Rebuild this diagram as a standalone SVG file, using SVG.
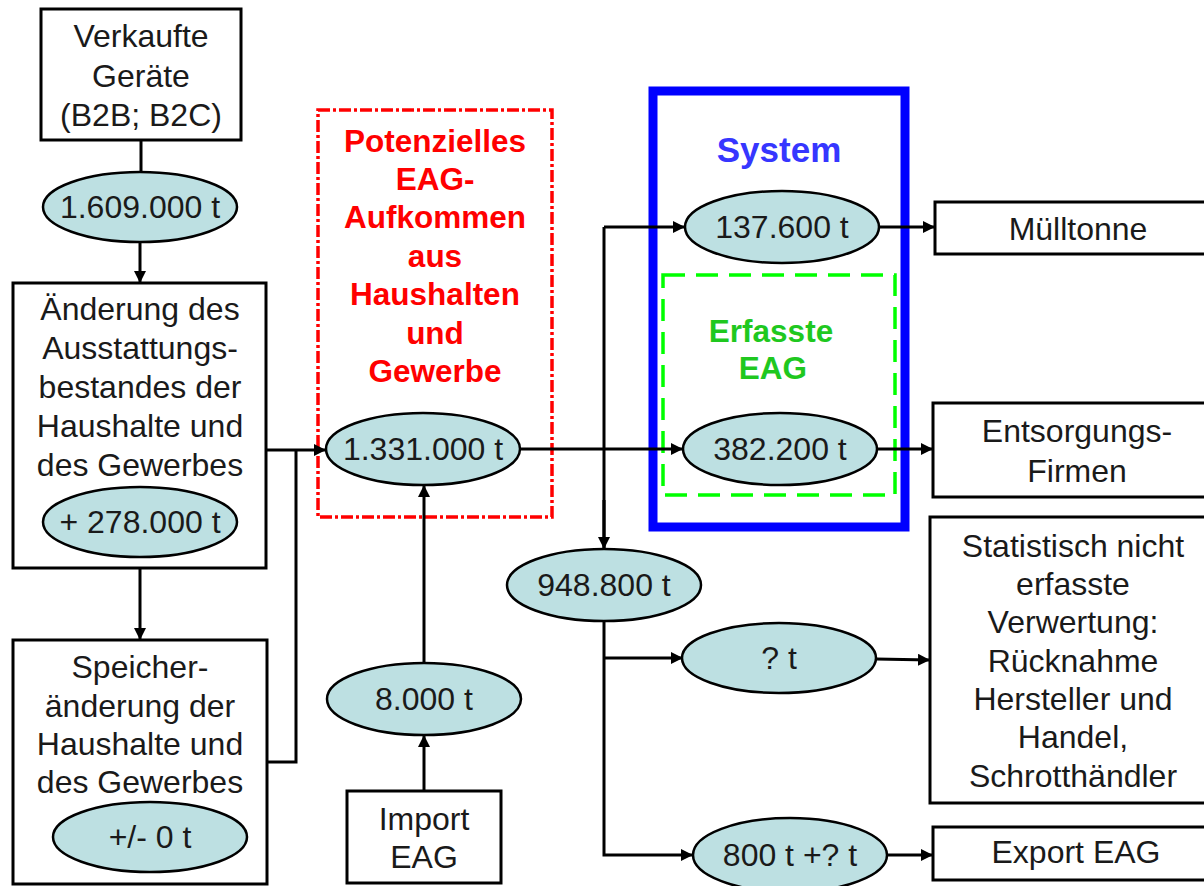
<svg xmlns="http://www.w3.org/2000/svg" width="1204" height="886" viewBox="0 0 1204 886">
<style>
.box{fill:#fff;stroke:#000;stroke-width:3}
.ell{fill:#bde0e2;stroke:#000;stroke-width:2.5}
.t{font-family:"Liberation Sans",Arial,sans-serif;font-size:32px;fill:#1a1a1a;text-anchor:middle}
.red{font-family:"Liberation Sans",Arial,sans-serif;font-size:31.5px;font-weight:bold;fill:#ff0000;text-anchor:middle}
.blue{font-family:"Liberation Sans",Arial,sans-serif;font-size:35px;font-weight:bold;fill:#3636ff;text-anchor:middle}
.green{font-family:"Liberation Sans",Arial,sans-serif;font-size:31.5px;font-weight:bold;fill:#1fc81f;text-anchor:middle}
.c{fill:none;stroke:#000;stroke-width:3}
</style>
<defs>
<marker id="ah" viewBox="0 0 10 10" refX="10" refY="5" markerWidth="4" markerHeight="4" markerUnits="strokeWidth" orient="auto">
<path d="M0,0 L10,5 L0,10 z" fill="#000"/>
</marker>
</defs>

<g id="frames">
<rect x="318" y="110" width="234" height="407" fill="none" stroke="#ff0000" stroke-width="3.5" stroke-dasharray="12 3 3 3"/>
<rect x="653" y="91" width="252" height="436" fill="none" stroke="#0000ff" stroke-width="9"/>
<rect x="663" y="275" width="232" height="220" fill="none" stroke="#00ff00" stroke-width="3.5" stroke-dasharray="22 11"/>
</g>

<g id="connectors">
<line class="c" x1="141" y1="140" x2="141" y2="172" stroke-width="2"/>
<line class="c" x1="140" y1="243" x2="140" y2="283" marker-end="url(#ah)"/>
<line class="c" x1="266" y1="450" x2="326" y2="450" marker-end="url(#ah)"/>
<polyline class="c" points="267,762 296,762 296,450"/>
<line class="c" x1="140" y1="568" x2="140" y2="640" marker-end="url(#ah)"/>
<line class="c" x1="424" y1="791" x2="424" y2="735" marker-end="url(#ah)"/>
<line class="c" x1="424" y1="663" x2="424" y2="485" marker-end="url(#ah)"/>
<line class="c" x1="520" y1="449" x2="683" y2="449" marker-end="url(#ah)"/>
<polyline class="c" points="604,548 604,227"/>
<line class="c" x1="604" y1="227" x2="685" y2="227" marker-end="url(#ah)"/>
<line class="c" x1="604" y1="500" x2="604" y2="549" marker-end="url(#ah)"/>
<line class="c" x1="879" y1="227" x2="935" y2="227" marker-end="url(#ah)"/>
<line class="c" x1="876" y1="449" x2="933" y2="449" marker-end="url(#ah)"/>
<polyline class="c" points="604,621 604,855 693,855" marker-end="url(#ah)"/>
<line class="c" x1="604" y1="658" x2="683" y2="658" marker-end="url(#ah)"/>
<line class="c" x1="876" y1="659" x2="930" y2="660" marker-end="url(#ah)"/>
<line class="c" x1="886" y1="855" x2="933" y2="855" marker-end="url(#ah)"/>
</g>

<g id="verkaufte">
<rect class="box" x="41" y="9" width="200" height="131"/>
<text class="t" x="141" y="47">Verkaufte</text>
<text class="t" x="141" y="87">Geräte</text>
<text class="t" x="141" y="126">(B2B; B2C)</text>
</g>
<g id="e1609">
<ellipse class="ell" cx="140" cy="207" rx="97" ry="35"/>
<text class="t" x="140" y="218">1.609.000 t</text>
</g>

<g id="aenderung">
<rect class="box" x="13" y="283" width="253" height="285"/>
<text class="t" x="140" y="320">Änderung des</text>
<text class="t" x="140" y="359">Ausstattungs-</text>
<text class="t" x="140" y="398">bestandes der</text>
<text class="t" x="140" y="437">Haushalte und</text>
<text class="t" x="140" y="476">des Gewerbes</text>
<ellipse class="ell" cx="140" cy="522" rx="97" ry="35"/>
<text class="t" x="140" y="533">+ 278.000 t</text>
</g>

<g id="speicher">
<rect class="box" x="13" y="640" width="254" height="244"/>
<text class="t" x="140" y="678">Speicher-</text>
<text class="t" x="140" y="717">änderung der</text>
<text class="t" x="140" y="755">Haushalte und</text>
<text class="t" x="140" y="793">des Gewerbes</text>
<ellipse class="ell" cx="150" cy="837" rx="97" ry="35"/>
<text class="t" x="150" y="848">+/- 0 t</text>
</g>

<g id="potenziell">
<text class="red" x="435" y="152">Potenzielles</text>
<text class="red" x="435" y="190">EAG-</text>
<text class="red" x="435" y="228">Aufkommen</text>
<text class="red" x="435" y="267">aus</text>
<text class="red" x="435" y="305">Haushalten</text>
<text class="red" x="435" y="344">und</text>
<text class="red" x="435" y="382">Gewerbe</text>
</g>
<g id="e1331">
<ellipse class="ell" cx="423" cy="449" rx="97" ry="36"/>
<text class="t" x="423" y="460">1.331.000 t</text>
</g>
<g id="e8000">
<ellipse class="ell" cx="424" cy="699" rx="97" ry="36"/>
<text class="t" x="424" y="710">8.000 t</text>
</g>
<g id="import">
<rect class="box" x="347" y="791" width="154" height="92"/>
<text class="t" x="424" y="830">Import</text>
<text class="t" x="424" y="868">EAG</text>
</g>

<g id="system">
<text class="blue" x="779" y="162">System</text>
</g>
<g id="erfasste">
<text class="green" x="771" y="342">Erfasste</text>
<text class="green" x="773" y="379">EAG</text>
</g>
<g id="e137600">
<ellipse class="ell" cx="782" cy="227" rx="97" ry="36"/>
<text class="t" x="782" y="238">137.600 t</text>
</g>
<g id="e382200">
<ellipse class="ell" cx="780" cy="449" rx="97" ry="36"/>
<text class="t" x="780" y="460">382.200 t</text>
</g>
<g id="e948800">
<ellipse class="ell" cx="604" cy="585" rx="97" ry="36"/>
<text class="t" x="604" y="596">948.800 t</text>
</g>
<g id="eq">
<ellipse class="ell" cx="779" cy="658" rx="97" ry="35"/>
<text class="t" x="779" y="669">? t</text>
</g>
<g id="e800">
<ellipse class="ell" cx="790" cy="855" rx="97" ry="37"/>
<text class="t" x="790" y="866">800 t +? t</text>
</g>

<g id="muell">
<rect class="box" x="935" y="202" width="280" height="52"/>
<text class="t" x="1078" y="240">Mülltonne</text>
</g>
<g id="entsorgung">
<rect class="box" x="933" y="403" width="280" height="94"/>
<text class="t" x="1077" y="442">Entsorgungs-</text>
<text class="t" x="1077" y="482">Firmen</text>
</g>
<g id="statistisch">
<rect class="box" x="930" y="517" width="285" height="286"/>
<text class="t" x="1073" y="557">Statistisch nicht</text>
<text class="t" x="1073" y="595">erfasste</text>
<text class="t" x="1073" y="633">Verwertung:</text>
<text class="t" x="1073" y="672">Rücknahme</text>
<text class="t" x="1073" y="710">Hersteller und</text>
<text class="t" x="1073" y="748">Handel,</text>
<text class="t" x="1073" y="787">Schrotthändler</text>
</g>
<g id="export">
<rect class="box" x="933" y="827" width="280" height="53"/>
<text class="t" x="1076" y="863">Export EAG</text>
</g>
</svg>
